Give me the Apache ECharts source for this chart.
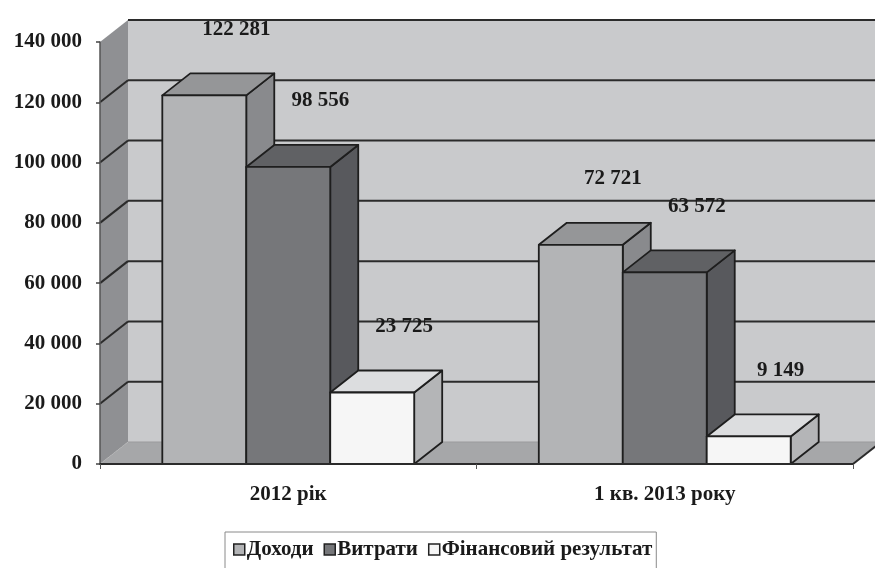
<!DOCTYPE html>
<html>
<head>
<meta charset="utf-8">
<script src="https://cdn.jsdelivr.net/npm/echarts@6/dist/echarts.min.js"></script>
<style>
html,body{margin:0;padding:0;background:#fff;}
#chart{width:875px;height:568px;}
</style>
</head>
<body>
<div id="chart"></div>
<script>
// ---- data ----
const categories = ['2012 рік', '1 кв. 2013 року'];
const seriesNames = ['Доходи', 'Витрати', 'Фінансовий результат'];
const incomeValues = [122281, 72721];
const expenseValues = [98556, 63572];
const resultValues = [23725, 9149];
const yTicks = [0, 20000, 40000, 60000, 80000, 100000, 120000, 140000];

// ---- style ----
const FONT = '"Liberation Serif", "Times New Roman", serif';
const FS = 21;
const DX = 28, DY = -22;
const faceColors = [
  { front: '#b3b4b6', top: '#959698', side: '#898a8d' },
  { front: '#76777a', top: '#606164', side: '#58595d' },
  { front: '#f6f6f6', top: '#dcdddf', side: '#b4b5b7' }
];
const EDGE = '#1e1e1e';

function fmt(v) { return String(v).replace(/\B(?=(\d{3})+(?!\d))/g, ' '); }

const chart = echarts.init(document.getElementById('chart'), null, { renderer: 'canvas' });

function wallRender(params, api) {
  const bw = api.size([1, 0])[0];
  const L = api.coord([0, 0])[0] - bw / 2;
  const R = L + bw * categories.length;
  const y0 = api.coord([0, 0])[1];
  const yTop = api.coord([0, yTicks[yTicks.length - 1]])[1];
  const ch = [];
  ch.push({ type: 'polygon', shape: { points: [[L + DX, yTop + DY], [R + DX + 20, yTop + DY], [R + DX + 20, y0 + DY], [L + DX, y0 + DY]] }, style: { fill: '#c9cacc' } });
  ch.push({ type: 'polygon', shape: { points: [[L, yTop], [L + DX, yTop + DY], [L + DX, y0 + DY], [L, y0]] }, style: { fill: '#8f9093' } });
  ch.push({ type: 'polygon', shape: { points: [[L, y0], [R, y0], [R + DX, y0 + DY], [L + DX, y0 + DY]] }, style: { fill: '#a6a7a9' } });
  ch.push({ type: 'line', shape: { x1: L + DX, y1: y0 + DY, x2: R + DX + 20, y2: y0 + DY }, style: { stroke: '#9a9b9d', lineWidth: 1 } });
  ch.push({ type: 'line', shape: { x1: L, y1: y0, x2: L + DX, y2: y0 + DY }, style: { stroke: '#b0b0b0', lineWidth: 1, lineDash: [2, 2] } });
  yTicks.forEach(function (v, i) {
    if (v === 0) return;
    const y = api.coord([0, v])[1];
    ch.push({ type: 'line', shape: { x1: L + DX, y1: y + DY, x2: R + DX + 20, y2: y + DY }, style: { stroke: '#2b2b2b', lineWidth: 2 } });
    if (i < yTicks.length - 1) {
      ch.push({ type: 'line', shape: { x1: L, y1: y, x2: L + DX, y2: y + DY }, style: { stroke: '#2b2b2b', lineWidth: 2 } });
    }
  });
  ch.push({ type: 'line', shape: { x1: L, y1: y0, x2: R, y2: y0 }, style: { stroke: '#2b2b2b', lineWidth: 2 } });
  ch.push({ type: 'line', shape: { x1: R, y1: y0, x2: R + DX, y2: y0 + DY }, style: { stroke: '#2b2b2b', lineWidth: 2 } });
  return { type: 'group', children: ch };
}

function barRenderFactory(si) {
  return function (params, api) {
    const cat = api.value(0), val = api.value(1);
    const bw = api.size([1, 0])[0];
    const c0 = api.coord([cat, 0]);
    const ct = api.coord([cat, val]);
    const barW = bw * 0.223;
    const x0 = c0[0] - 1.5 * barW + si * barW;
    const x1 = x0 + barW;
    const y0 = c0[1], yt = ct[1];
    const col = faceColors[si];
    const st = { stroke: EDGE, lineWidth: 1.8, lineJoin: 'round' };
    return {
      type: 'group',
      children: [
        { type: 'polygon', shape: { points: [[x1, yt], [x1 + DX, yt + DY], [x1 + DX, y0 + DY], [x1, y0]] }, style: Object.assign({ fill: col.side }, st) },
        { type: 'polygon', shape: { points: [[x0, yt], [x1, yt], [x1 + DX, yt + DY], [x0 + DX, yt + DY]] }, style: Object.assign({ fill: col.top }, st) },
        { type: 'rect', shape: { x: x0, y: yt, width: barW, height: y0 - yt }, style: Object.assign({ fill: col.front }, st) },
        { type: 'text', z2: 100, style: { text: fmt(val), x: x0 + barW / 2 + DX + 4, y: yt + DY - 44, align: 'center', verticalAlign: 'middle', font: 'bold ' + FS + 'px ' + FONT, fill: '#1a1a1a' } }
      ]
    };
  };
}

const valueSets = [incomeValues, expenseValues, resultValues];
const barSeries = valueSets.map(function (vals, si) {
  return {
    name: seriesNames[si],
    type: 'custom',
    renderItem: barRenderFactory(si),
    data: vals.map(function (v, ci) { return [ci, v]; }),
    itemStyle: { color: faceColors[si].front, borderColor: '#222', borderWidth: 1.5 },
    z: 3 + si,
    clip: false
  };
});

chart.setOption({
  animation: false,
  backgroundColor: '#ffffff',
  grid: { left: 100, right: 22, top: 42, bottom: 104, containLabel: false },
  xAxis: {
    type: 'category',
    data: categories,
    boundaryGap: true,
    z: 10,
    axisLine: { show: true, lineStyle: { color: '#2b2b2b', width: 2 } },
    axisTick: { show: true, length: 5, lineStyle: { color: '#555', width: 1 } },
    axisLabel: { margin: 20, fontFamily: FONT, fontWeight: 'bold', fontSize: FS, color: '#1a1a1a' },
    splitLine: { show: false }
  },
  yAxis: {
    type: 'value',
    min: 0, max: 140000, interval: 20000,
    z: 10,
    axisLine: { show: true, lineStyle: { color: '#555', width: 1.5 } },
    axisTick: { show: true, length: 4, lineStyle: { color: '#444', width: 1.5 } },
    axisLabel: { margin: 18, fontFamily: FONT, fontWeight: 'bold', fontSize: FS, color: '#1a1a1a', formatter: function (v) { return fmt(v); } },
    splitLine: { show: false }
  },
  legend: {
    data: seriesNames,
    left: 225, top: 532,
    icon: 'rect',
    itemWidth: 11, itemHeight: 11,
    itemGap: 10,
    padding: [7, 4, 14, 8],
    borderColor: '#8a8a8a', borderWidth: 1,
    textStyle: { fontFamily: FONT, fontWeight: 'bold', fontSize: FS, color: '#1a1a1a', padding: [0, 0, 0, -3] },
    itemStyle: { borderColor: '#222', borderWidth: 1.5 }
  },
  series: [{
    type: 'custom',
    name: '__walls',
    renderItem: wallRender,
    data: [[0]],
    z: 1,
    silent: true,
    clip: false
  }].concat(barSeries)
});
</script>
</body>
</html>
